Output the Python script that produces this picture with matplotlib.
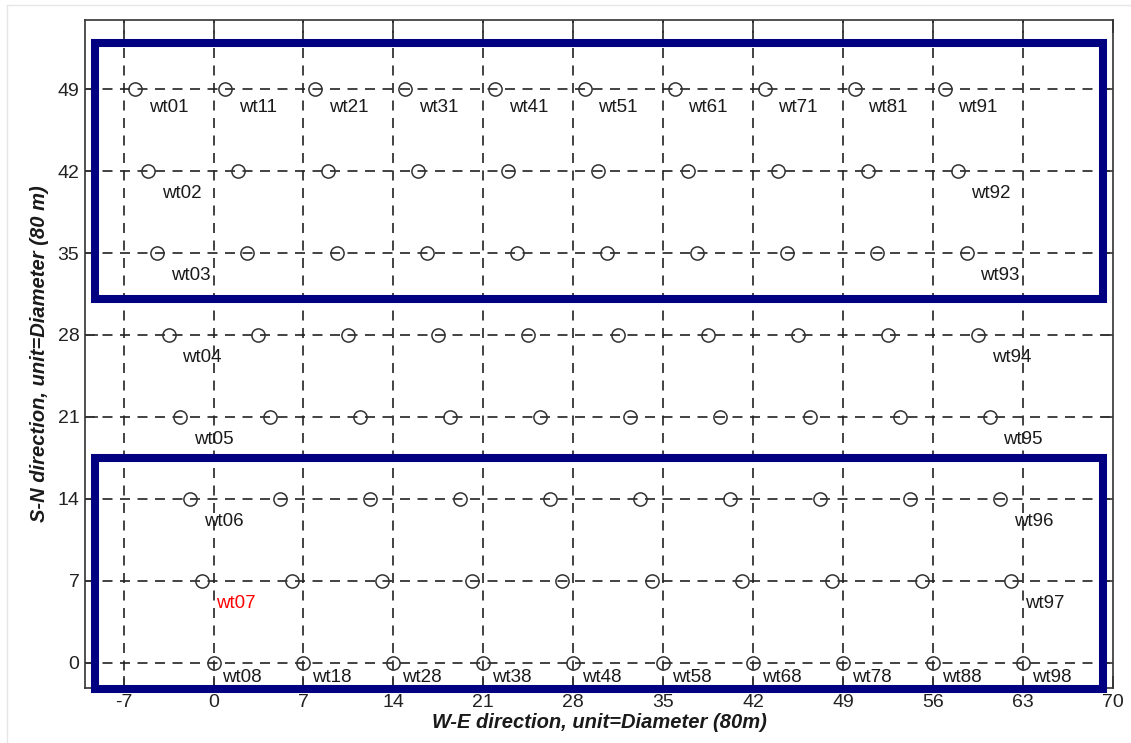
import matplotlib
matplotlib.use("Agg")
import matplotlib.pyplot as plt
from matplotlib.patches import Rectangle
from matplotlib.lines import Line2D

plt.rcParams['font.family'] = ['Liberation Sans', 'DejaVu Sans']
plt.rcParams['axes.unicode_minus'] = False

# ---- data ----
row_y = [49, 42, 35, 28, 21, 14, 7, 0]
row_x = [
    [-6.1, 0.9, 7.9, 14.9, 21.9, 28.9, 35.9, 42.9, 49.9, 56.9],
    [-5.1, 1.9, 8.9, 15.9, 22.9, 29.9, 36.9, 43.9, 50.9, 57.9],
    [-4.4, 2.6, 9.6, 16.6, 23.6, 30.6, 37.6, 44.6, 51.6, 58.6],
    [-3.5, 3.5, 10.5, 17.5, 24.5, 31.5, 38.5, 45.5, 52.5, 59.5],
    [-2.6, 4.4, 11.4, 18.4, 25.4, 32.4, 39.4, 46.4, 53.4, 60.4],
    [-1.8, 5.2, 12.2, 19.2, 26.2, 33.2, 40.2, 47.2, 54.2, 61.2],
    [-0.9, 6.1, 13.1, 20.1, 27.1, 34.1, 41.1, 48.1, 55.1, 62.1],
    [0.0, 7.0, 14.0, 21.0, 28.0, 35.0, 42.0, 49.0, 56.0, 63.0],
]
col_ids = ['0', '1', '2', '3', '4', '5', '6', '7', '8', '9']
row_ids = ['1', '2', '3', '4', '5', '6', '7', '8']
highlight = 'wt07'
x_ticks = [-7, 0, 7, 14, 21, 28, 35, 42, 49, 56, 63, 70]
y_ticks = [0, 7, 14, 21, 28, 35, 42, 49]
# zones (x0, y0, x1, y1)
zones = [(-9.2, 31.1, 69.2, 52.9), (-9.2, -2.2, 69.2, 17.5)]
xlabel = 'W-E direction, unit=Diameter (80m)'
ylabel = 'S-N direction, unit=Diameter (80 m)'

# ---- figure ----
fig = plt.figure(figsize=(11.31, 7.43), dpi=100)
ax = fig.add_axes([85/1131, 55/743, (1113-85)/1131, (688-20)/743])
ax.set_xlim(-10, 70)
ax.set_ylim(-2.15, 54.9)

grid_kw = dict(color='#222222', lw=1.2, dashes=(6, 4.5), zorder=1)
for xt in x_ticks[:-1]:
    ax.axvline(xt, **grid_kw)
for yt in y_ticks:
    ax.axhline(yt, **grid_kw)

for i, (yy, xs) in enumerate(zip(row_y, row_x)):
    ax.plot(xs, [yy]*len(xs), 'o', ms=9.5, mfc='none', mec='#333333',
            mew=1.1, zorder=3)
    for j, xx in enumerate(xs):
        name = 'wt' + col_ids[j] + row_ids[i]
        top = i == 0
        bottom = i == len(row_y) - 1
        if not (top or bottom or j == 0 or j == len(xs) - 1):
            continue
        if top:
            dx, dy = 2.6, -1.6
        elif bottom:
            dx, dy = 2.2, -1.25
        else:
            dx, dy = 2.6, -1.9
        ax.text(xx + dx, yy + dy, name, ha='center', va='center',
                fontsize=13.5, color='red' if name == highlight else '#1a1a1a',
                zorder=4)

for (x0, y0, x1, y1) in zones:
    ax.add_patch(Rectangle((x0, y0), x1 - x0, y1 - y0, fill=False,
                           ec='#000080', lw=5.8, zorder=5, clip_on=False))

ax.set_xticks(x_ticks)
ax.set_yticks(y_ticks)
ax.tick_params(direction='in', length=9, width=1.2, color='#333333',
               top=True, right=True, labelsize=14, labelcolor='#222222', pad=4)
for s in ax.spines.values():
    s.set_color('#333333')
    s.set_linewidth(1.2)

ax.set_xlabel(xlabel, fontsize=14.5, fontweight='bold', style='italic',
              color='#1a1a1a', labelpad=2)
ax.set_ylabel(ylabel, fontsize=14.5, fontweight='bold', style='italic',
              color='#1a1a1a', labelpad=6)

# faint outer frame lines
fig.add_artist(Line2D([7/1131, 7/1131], [0, 1 - 5/743], color='#e6e6e6', lw=1))
fig.add_artist(Line2D([7/1131, 1], [1 - 5/743, 1 - 5/743], color='#e6e6e6', lw=1))

fig.savefig('out.png', dpi=100)
